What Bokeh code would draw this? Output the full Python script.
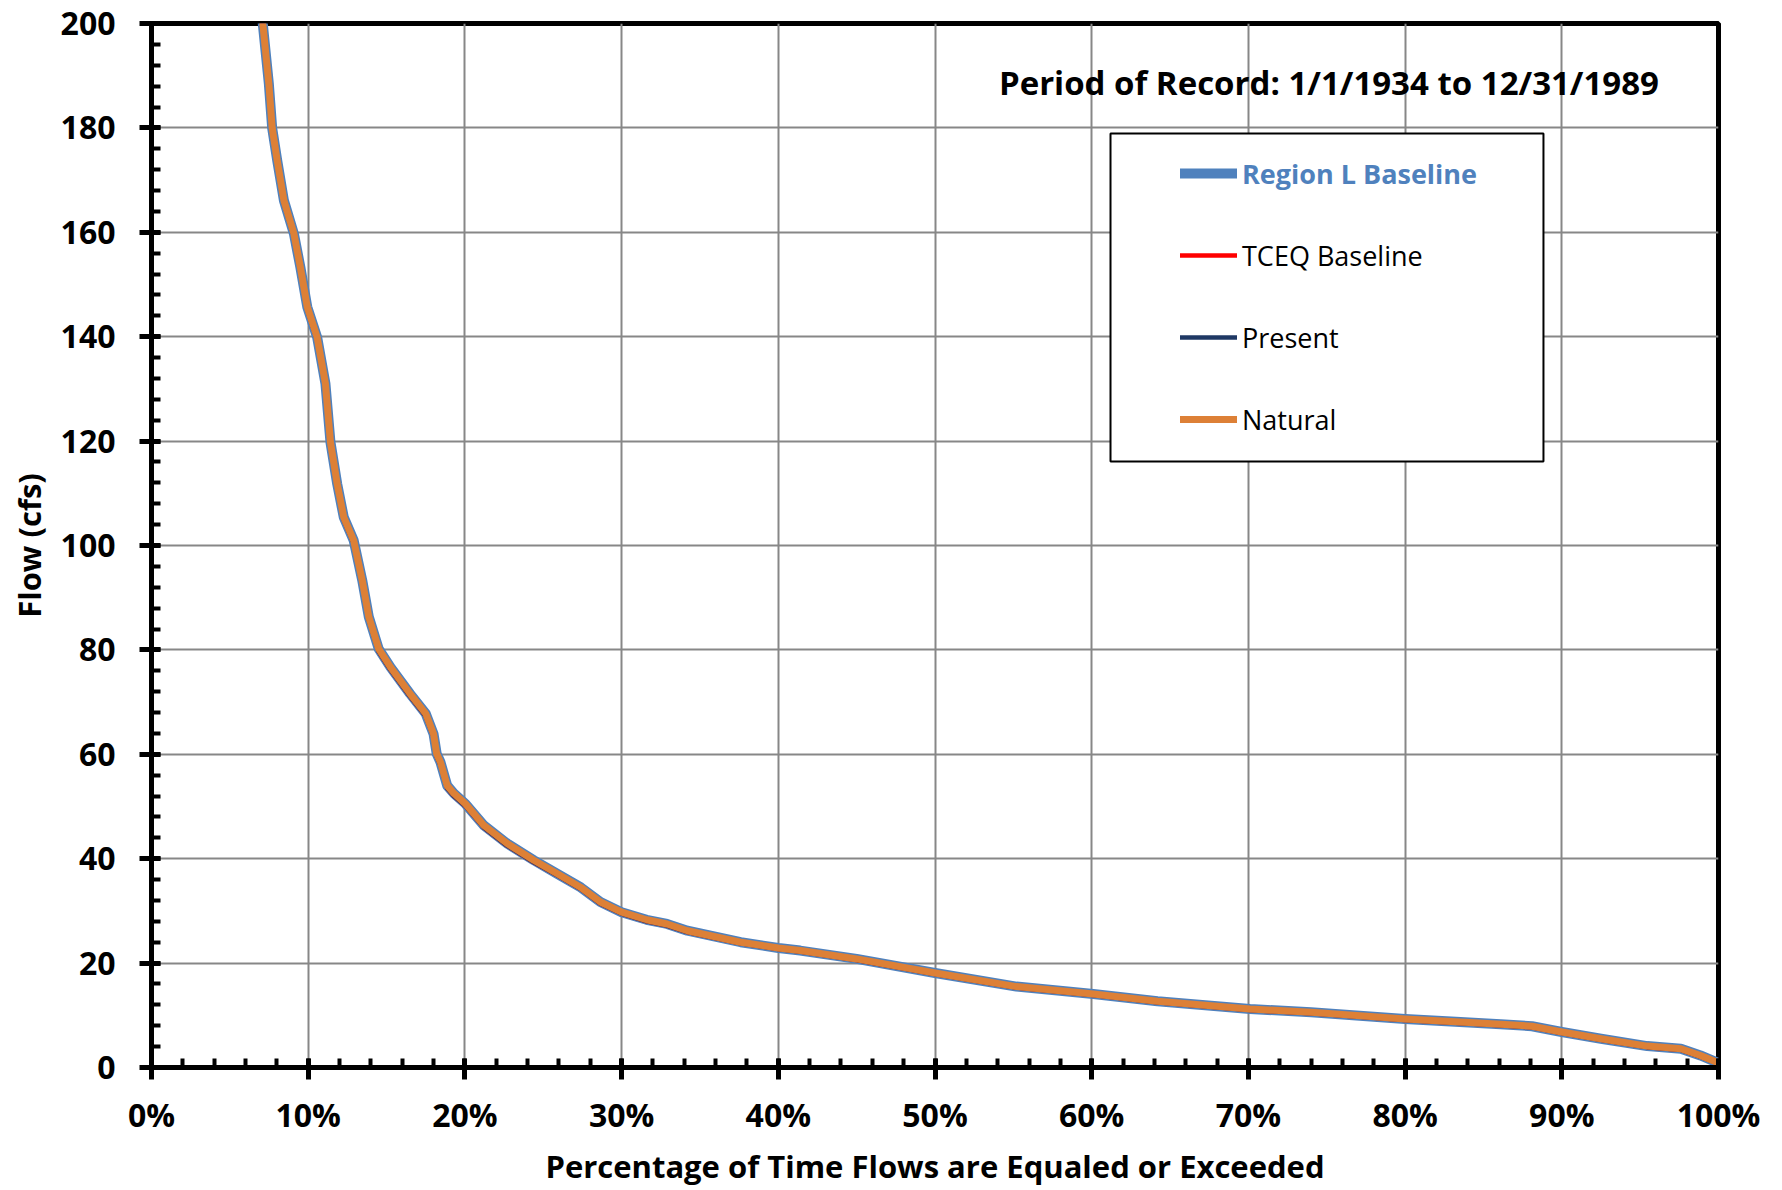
from bokeh.plotting import figure
from bokeh.models import (Range1d, SingleIntervalTicker, PrintfTickFormatter, Legend,
                          LegendItem, BoxAnnotation, Label)
from bokeh.embed import file_html
from bokeh.resources import INLINE

# ---------------- data ----------------
pct = [6.6, 7.1, 7.49, 7.7, 8.02, 8.45, 9.09, 9.5, 9.94, 10.57,
       11.1, 11.42, 11.85, 12.27, 12.9, 13.45, 13.87, 14.5, 15.25, 16.5,
       17.5, 18.0, 18.2, 18.44, 18.87, 19.3, 20.04, 21.2, 22.7, 24.4,
       25.9, 27.4, 28.65, 30.0, 31.6, 32.9, 34.2, 35.9, 37.6, 40.0,
       41.4, 45.0, 50.0, 55.2, 60.1, 64.2, 70.1, 74.0, 80.0, 86.1,
       88.1, 90.0, 92.5, 95.45, 97.6, 98.85, 99.9, 100.0]

region_l = [215, 200, 188.4, 180, 173.8, 166.1, 159.7, 153.3, 145.7, 139.9,
            131.0, 119.8, 111.8, 105.4, 101.0, 93.3, 86.3, 80.2, 76.7, 71.6,
            67.8, 63.9, 60.1, 58.5, 54.0, 52.5, 50.5, 46.4, 42.9, 39.7,
            37.1, 34.5, 31.7, 29.75, 28.3, 27.5, 26.2, 25.1, 24.0, 22.9,
            22.4, 20.8, 18.1, 15.5, 14.1, 12.7, 11.2, 10.6, 9.3, 8.3,
            7.9, 6.8, 5.5, 4.1, 3.6, 2.3, 1.0, 0.9]

tceq = [214, 199.5, 187.9, 179.5, 173.3, 165.6, 159.2, 152.8, 145.2, 139.4,
        130.5, 119.3, 111.3, 104.9, 100.5, 92.8, 85.8, 79.7, 76.2, 71.1,
        67.3, 63.4, 59.6, 58.0, 53.5, 52.0, 50.1, 46.0, 42.5, 39.3,
        36.8, 34.2, 31.4, 29.5, 28.0, 27.2, 25.95, 24.85, 23.8, 22.7,
        22.2, 20.6, 17.9, 15.3, 13.9, 12.5, 11.0, 10.4, 9.1, 8.1,
        7.7, 6.6, 5.3, 3.9, 3.4, 2.1, 0.9, 0.8]

present = [214, 199.5, 187.9, 179.5, 173.3, 165.6, 159.2, 152.8, 145.2, 139.4,
           130.5, 119.3, 111.3, 104.9, 100.5, 92.8, 85.8, 79.7, 76.2, 71.1,
           67.3, 63.4, 59.6, 58.0, 53.5, 52.0, 50.1, 46.0, 42.5, 39.3,
           36.8, 34.2, 31.4, 29.5, 28.0, 27.2, 25.95, 24.85, 23.8, 22.7,
           22.2, 20.6, 17.9, 15.3, 13.9, 12.5, 11.0, 10.4, 9.1, 8.1,
           7.7, 6.6, 5.3, 3.9, 3.4, 2.1, 0.9, 0.8]

natural = [215, 200, 188.4, 180, 173.8, 166.1, 159.7, 153.3, 145.7, 139.9,
           131.0, 119.8, 111.8, 105.4, 101.0, 93.3, 86.3, 80.2, 76.7, 71.6,
           67.8, 63.9, 60.1, 58.5, 54.0, 52.5, 50.5, 46.4, 42.9, 39.7,
           37.1, 34.5, 31.7, 29.75, 28.3, 27.5, 26.2, 25.1, 24.0, 22.9,
           22.4, 20.8, 18.1, 15.5, 14.1, 12.7, 11.2, 10.6, 9.3, 8.3,
           7.9, 6.8, 5.5, 4.1, 3.6, 2.3, 1.0, 0.9]

series_names = ["Region L Baseline", "TCEQ Baseline", "Present", "Natural"]
title_text = "Period of Record: 1/1/1934 to 12/31/1989"
x_title = "Percentage of Time Flows are Equaled or Exceeded"
y_title = "Flow (cfs)"

# ---------------- figure ----------------
FONT = "Open Sans"
W, H = 1782, 1190
p = figure(width=W, height=H, output_backend="svg", toolbar_location=None,
           x_range=Range1d(0, 100), y_range=Range1d(0, 200),
           min_border_left=151, min_border_right=64, min_border_top=23,
           min_border_bottom=123)
p.background_fill_color = "white"
p.border_fill_color = "white"
p.outline_line_color = "black"
p.outline_line_width = 5

xt = SingleIntervalTicker(interval=10, num_minor_ticks=5)
yt = SingleIntervalTicker(interval=20, num_minor_ticks=5)
p.xaxis.ticker = xt
p.yaxis.ticker = yt
p.xgrid.ticker = xt
p.ygrid.ticker = yt
p.xaxis.formatter = PrintfTickFormatter(format="%d%%")

for g in (p.xgrid, p.ygrid):
    g.grid_line_color = "#878787"
    g.grid_line_width = 2

for ax in (p.xaxis, p.yaxis):
    ax.axis_line_color = "black"
    ax.axis_line_width = 5
    ax.major_tick_line_color = "black"
    ax.major_tick_line_width = 5
    ax.minor_tick_line_color = "black"
    ax.minor_tick_line_width = 4
    ax.major_tick_in = 9
    ax.major_tick_out = 12
    ax.minor_tick_in = 9
    ax.minor_tick_out = 0
    ax.major_label_text_font = FONT
    ax.major_label_text_font_style = "bold"
    ax.major_label_text_font_size = "32px"
    ax.major_label_text_color = "black"
    ax.axis_label_text_font = FONT
    ax.axis_label_text_font_style = "bold"
    ax.axis_label_text_font_size = "31px"
    ax.axis_label_text_color = "black"

p.xaxis.axis_label = x_title
p.yaxis.axis_label = y_title
p.xaxis.major_label_standoff = 13
p.xaxis.axis_label_standoff = 6
p.yaxis.major_label_standoff = 24
p.yaxis.axis_label_standoff = 8

# ---------------- series ----------------
r_reg = p.line(pct, region_l, line_color="#4F81BD", line_width=10,
               line_join="round", line_cap="round")
r_tceq = p.line(pct, tceq, line_color="#FF0000", line_width=4.5,
                line_join="round", line_cap="round")
r_pres = p.line(pct, present, line_color="#1F3864", line_width=4.5,
                line_join="round", line_cap="round")
r_nat = p.line(pct, natural, line_color="#DD8036", line_width=7,
               line_join="round", line_cap="round")

# ---------------- legend ----------------
box = BoxAnnotation(left=61.2, right=88.83, bottom=116.1, top=178.93,
                    fill_color="white", fill_alpha=1.0,
                    line_color="black", line_width=2, line_alpha=1.0)
p.add_layout(box)

common = dict(glyph_width=57, glyph_height=82, label_height=82, spacing=0,
              padding=0, margin=0, border_line_alpha=0, background_fill_alpha=0,
              label_standoff=5, label_text_font=FONT, label_text_font_size="27px")

leg_b = Legend(items=[LegendItem(label=series_names[0], renderers=[r_reg])],
               location=(1029, 853), label_text_color="#4F81BD",
               label_text_font_style="bold", **common)
leg_a = Legend(items=[LegendItem(label=series_names[1], renderers=[r_tceq]),
                      LegendItem(label=series_names[2], renderers=[r_pres]),
                      LegendItem(label=series_names[3], renderers=[r_nat])],
               location=(1029, 607), label_text_color="black", **common)
p.add_layout(leg_b)
p.add_layout(leg_a)

lab = Label(x=75.14, y=188.7, text=title_text, text_align="center",
            text_baseline="middle", text_font=FONT, text_font_style="bold",
            text_font_size="33px", text_color="black")
p.add_layout(lab)

open("out.html", "w").write(file_html(p, INLINE))
